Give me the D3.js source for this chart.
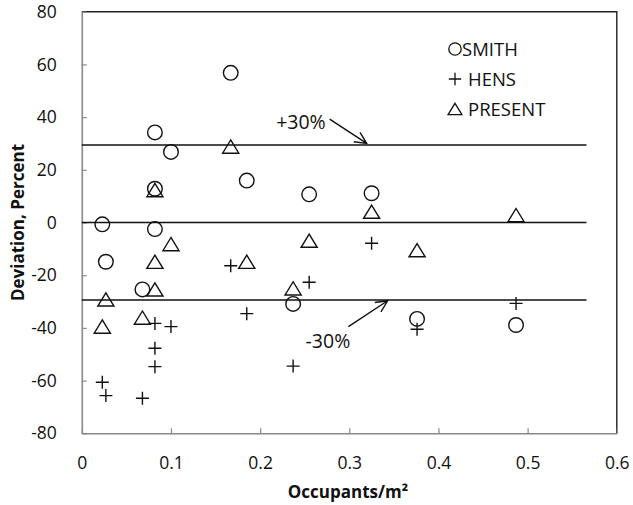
<!DOCTYPE html>
<html>
<head>
<meta charset="utf-8">
<script src="https://cdn.jsdelivr.net/npm/d3@7"></script>
<style>
  html, body { margin: 0; padding: 0; background: #fff; }
  svg { display: block; font-family: "Open Sans", "Liberation Sans", sans-serif; }
</style>
</head>
<body>
<div id="chart"></div>
<script>
// data
const occupants = [0.023, 0.027, 0.068, 0.082, 0.082, 0.082, 0.100, 0.167, 0.185, 0.237, 0.255, 0.325, 0.376, 0.487];
const smith   = [-0.7, -14.9, -25.4, 34.2, 12.8, -2.5, 26.8, 56.8, 15.9, -30.9, 10.7, 11.1, -36.6, -38.9];
const hens    = [-60.6, -65.7, -66.7, -38.3, -47.7, -54.7, -39.5, -16.4, -34.6, -54.5, -22.7, -7.9, -40.5, -30.7];
const present = [-39.5, -29.2, -36.1, 12.3, -14.9, -25.4, -8.2, 28.8, -14.9, -25.0, -6.9, 4.1, -10.5, 2.8];

const xTicks = [0, 0.1, 0.2, 0.3, 0.4, 0.5, 0.6];
const yTicks = [-80, -60, -40, -20, 0, 20, 40, 60, 80];

// reference lines (+30%, 0, -30%) and where they stop
const refLevels = [29.4, 0, -29.4];
const refLineEnd = 0.566;

// annotation labels with arrows, in data units
const annotations = [
  { label: "+30%", tx: 0.218, ty: 35.4, x1: 0.278, y1: 39.2, x2: 0.3195, y2: 30.0 },
  { label: "-30%", tx: 0.251, ty: -47.5, x1: 0.299, y1: -39.5, x2: 0.343, y2: -29.7 }
];

const seriesNames = ["SMITH", "HENS", "PRESENT"];
const seriesShapes = ["circle", "plus", "triangle"];

const CHART_CONFIG = {
  width: 633,
  height: 505,
  margin: { top: 11.7, right: 16.2, bottom: 71.7, left: 81.8 },
  axisColor: "#898989",
  tickFont: 17.5
};

let svg, x, y;

function setupScales() {
  svg = d3.select("#chart").append("svg")
    .attr("width", CHART_CONFIG.width)
    .attr("height", CHART_CONFIG.height);

  x = d3.scaleLinear()
    .domain([0, 0.6])
    .range([CHART_CONFIG.margin.left, CHART_CONFIG.width - CHART_CONFIG.margin.right]);

  y = d3.scaleLinear()
    .domain([-80, 80])
    .range([CHART_CONFIG.height - CHART_CONFIG.margin.bottom, CHART_CONFIG.margin.top]);
}

function drawFrame() {
  const [x0, x1] = x.range();
  const [y0, y1] = y.range();

  // top and right border in black
  svg.append("path")
    .attr("d", `M${x0},${y1}H${x1}V${y0}`)
    .attr("fill", "none")
    .attr("stroke", "#222")
    .attr("stroke-width", 1.4);

  // x axis, ticks pointing inward
  svg.append("g")
    .attr("transform", `translate(0,${y0})`)
    .call(d3.axisBottom(x).tickValues(xTicks).tickSizeInner(-5).tickSizeOuter(0)
      .tickPadding(23).tickFormat(d => d === 0 ? "0" : d.toFixed(1)))
    .call(g => g.select(".domain").attr("stroke", CHART_CONFIG.axisColor).attr("stroke-width", 1.6))
    .call(g => g.selectAll(".tick line").attr("stroke", CHART_CONFIG.axisColor).attr("stroke-width", 1.2))
    .call(g => g.selectAll(".tick text")
      .attr("font-size", CHART_CONFIG.tickFont)
      .attr("font-family", "Open Sans")
      .attr("fill", "#111"));

  // y axis (plain hyphen for negatives, like the original)
  svg.append("g")
    .attr("transform", `translate(${x0},0)`)
    .call(d3.axisLeft(y).tickValues(yTicks).tickSizeInner(-5).tickSizeOuter(0)
      .tickPadding(25).tickFormat(d => String(d)))
    .call(g => g.select(".domain").attr("stroke", CHART_CONFIG.axisColor).attr("stroke-width", 1.6))
    .call(g => g.selectAll(".tick line").attr("stroke", CHART_CONFIG.axisColor).attr("stroke-width", 1.2))
    .call(g => g.selectAll(".tick text")
      .attr("font-size", CHART_CONFIG.tickFont)
      .attr("font-family", "Open Sans")
      .attr("fill", "#111"));
}

function drawTitles() {
  svg.append("text")
    .attr("x", 348)
    .attr("y", 498)
    .attr("text-anchor", "middle")
    .attr("font-size", 17)
    .attr("font-weight", "bold")
    .attr("fill", "#111")
    .text("Occupants/m²");

  svg.append("text")
    .attr("transform", `translate(24,${y(0)}) rotate(-90)`)
    .attr("text-anchor", "middle")
    .attr("font-size", 17)
    .attr("font-weight", "bold")
    .attr("fill", "#111")
    .text("Deviation, Percent");
}

function drawRefLines() {
  svg.selectAll(".ref-line")
    .data(refLevels)
    .join("line")
    .attr("class", "ref-line")
    .attr("x1", x(0))
    .attr("x2", x(refLineEnd))
    .attr("y1", d => y(d))
    .attr("y2", d => y(d))
    .attr("stroke", "#111")
    .attr("stroke-width", 1.5);
}

function drawAnnotations() {
  const g = svg.selectAll(".note")
    .data(annotations)
    .join("g")
    .attr("class", "note");

  g.append("text")
    .attr("x", d => x(d.tx))
    .attr("y", d => y(d.ty))
    .attr("font-size", 19.5)
    .attr("fill", "#111")
    .text(d => d.label);

  // arrow shaft and open head
  g.append("path")
    .attr("d", d => {
      const ax = x(d.x1), ay = y(d.y1), bx = x(d.x2), by = y(d.y2);
      const ang = Math.atan2(by - ay, bx - ax);
      const len = 13, spread = 0.45;
      const h1 = [bx - len * Math.cos(ang - spread), by - len * Math.sin(ang - spread)];
      const h2 = [bx - len * Math.cos(ang + spread), by - len * Math.sin(ang + spread)];
      return `M${ax},${ay}L${bx},${by}M${h1[0]},${h1[1]}L${bx},${by}L${h2[0]},${h2[1]}`;
    })
    .attr("fill", "none")
    .attr("stroke", "#111")
    .attr("stroke-width", 1.4);
}

// marker path for a shape, centred on 0,0
function markerPath(shape, s) {
  if (shape === "circle") {
    return `M${-s},0a${s},${s} 0 1,0 ${2 * s},0a${s},${s} 0 1,0 ${-2 * s},0`;
  }
  if (shape === "plus") {
    return `M${-s},0H${s}M0,${-s}V${s}`;
  }
  const w = s * 1.12, h = s * 0.92;
  return `M0,${-h}L${w},${h}L${-w},${h}Z`;
}

function drawPoints() {
  const series = [smith, hens, present];
  const sizes = [7.3, 6.5, 7.2];

  series.forEach((values, si) => {
    svg.append("g")
      .attr("class", "series-" + seriesNames[si])
      .selectAll("path")
      .data(values)
      .join("path")
      .attr("transform", (d, i) => `translate(${x(occupants[i])},${y(d)})`)
      .attr("d", markerPath(seriesShapes[si], sizes[si]))
      .attr("fill", "none")
      .attr("stroke", "#111")
      .attr("stroke-width", 1.4);
  });
}

function drawLegend() {
  const rows = svg.append("g")
    .attr("class", "legend")
    .selectAll("g")
    .data(seriesNames)
    .join("g")
    .attr("transform", (d, i) => `translate(455,${49 + i * 30})`);

  rows.append("path")
    .attr("d", (d, i) => markerPath(seriesShapes[i], 6.2))
    .attr("fill", "none")
    .attr("stroke", "#111")
    .attr("stroke-width", 1.3);

  rows.append("text")
    .attr("x", (d, i) => i === 0 ? 7 : 13)
    .attr("y", 7)
    .attr("font-size", 18.5)
    .attr("fill", "#111")
    .text(d => d);
}

function initializeChart() {
  setupScales();
  drawFrame();
  drawRefLines();
  drawTitles();
  drawAnnotations();
  drawPoints();
  drawLegend();
}

initializeChart();
</script>
</body>
</html>
